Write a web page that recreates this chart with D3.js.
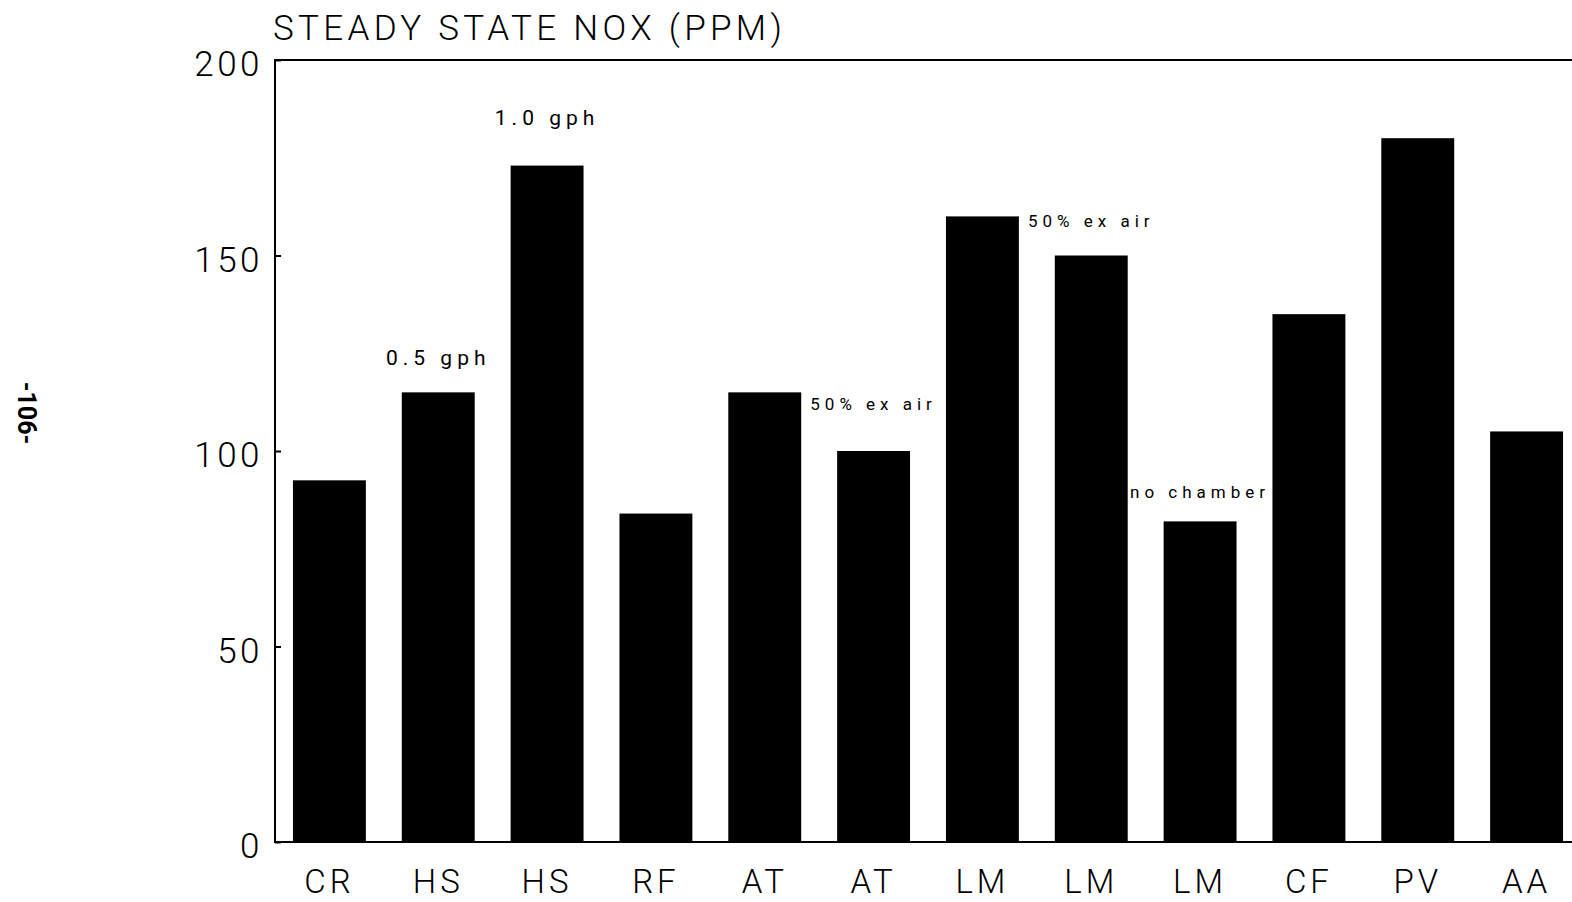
<!DOCTYPE html>
<html><head><meta charset="utf-8">
<script src="https://cdn.jsdelivr.net/npm/d3@7"></script>
<style>
html,body{margin:0;padding:0;background:#fff;}
svg{display:block;}
text{font-family:Roboto,"Liberation Sans",Arial,sans-serif;fill:#000;}
</style></head>
<body>
<svg id="chart" width="1572" height="902"></svg>
<script>
const categories = ["CR","HS","HS","RF","AT","AT","LM","LM","LM","CF","PV","AA"];
const values = [92.5,115,173,84,115,100,160,150,82,135,180,105];
const yTicks = [0,50,100,150,200];
const annotations = [
  {index:1, level:122, text:"0.5 gph"},
  {index:2, level:183.5, text:"1.0 gph"},
  {index:5, level:110.5, text:"50% ex air"},
  {index:7, level:157.2, text:"50% ex air"},
  {index:8, level:88, text:"no chamber"}
];
const title = "STEADY STATE NOX (PPM)";
const pageMark = "-106-";

(function(){
const svg = d3.select("#chart");
const mLeft = 275, mTop = 60, mBottom = 842, mRight = 1581;

const x = d3.scaleBand().domain(d3.range(categories.length))
  .range([mLeft, mRight]).paddingInner(0.33).paddingOuter(0.165);
const y = d3.scaleLinear().domain([0,200]).range([mBottom, mTop]);

// bars
svg.append("g").selectAll("rect").data(values).join("rect")
  .attr("x",(d,i)=>x(i)).attr("width",x.bandwidth())
  .attr("y",d=>y(d)).attr("height",d=>y(0)-y(d))
  .attr("fill","#000");

// frame
svg.append("path")
  .attr("d",`M${mRight},${mTop}H${mLeft}V${mBottom}H${mRight}`)
  .attr("fill","none").attr("stroke","#000").attr("stroke-width",2);

// y axis (ticks inward)
const yAxis = d3.axisLeft(y).tickValues(yTicks).tickSize(-6).tickPadding(12).tickFormat(d3.format("d"));
const gy = svg.append("g").attr("transform",`translate(${mLeft},0)`).call(yAxis);
gy.select(".domain").remove();
gy.selectAll("line").attr("stroke","#000").attr("stroke-width",2);
gy.selectAll("text").attr("font-size",35).attr("font-weight",300)
  .attr("letter-spacing",3.5).attr("dy","0.45em").attr("fill","#000");

// x axis labels
const xAxis = d3.axisBottom(x).tickSize(0).tickPadding(0).tickFormat(i=>categories[i]);
const gx = svg.append("g").attr("transform",`translate(0,${mBottom})`).call(xAxis);
gx.select(".domain").remove();
gx.selectAll("text").attr("font-size",33).attr("font-weight",300)
  .attr("letter-spacing",4).attr("y",51).attr("dy",0).attr("fill","#000");

// annotations
svg.append("g").selectAll("text").data(annotations).join("text")
  .attr("x",d=>x(d.index)+x.bandwidth()/2)
  .attr("y",d=>y(d.level))
  .attr("text-anchor","middle")
  .attr("font-size",d=>d.text.indexOf("gph")>=0?21:17)
  .attr("letter-spacing",5)
  .text(d=>d.text);

// title
svg.append("text").attr("x",mLeft-2).attr("y",40)
  .attr("font-size",35).attr("font-weight",300).attr("letter-spacing",4.3)
  .text(title);

// page mark
svg.append("text").attr("transform","translate(18,413) rotate(90)")
  .attr("text-anchor","middle").attr("font-size",25).attr("font-weight",700)
  .attr("font-family","'Liberation Serif',serif")
  .text(pageMark);
})();
</script>
</body></html>
